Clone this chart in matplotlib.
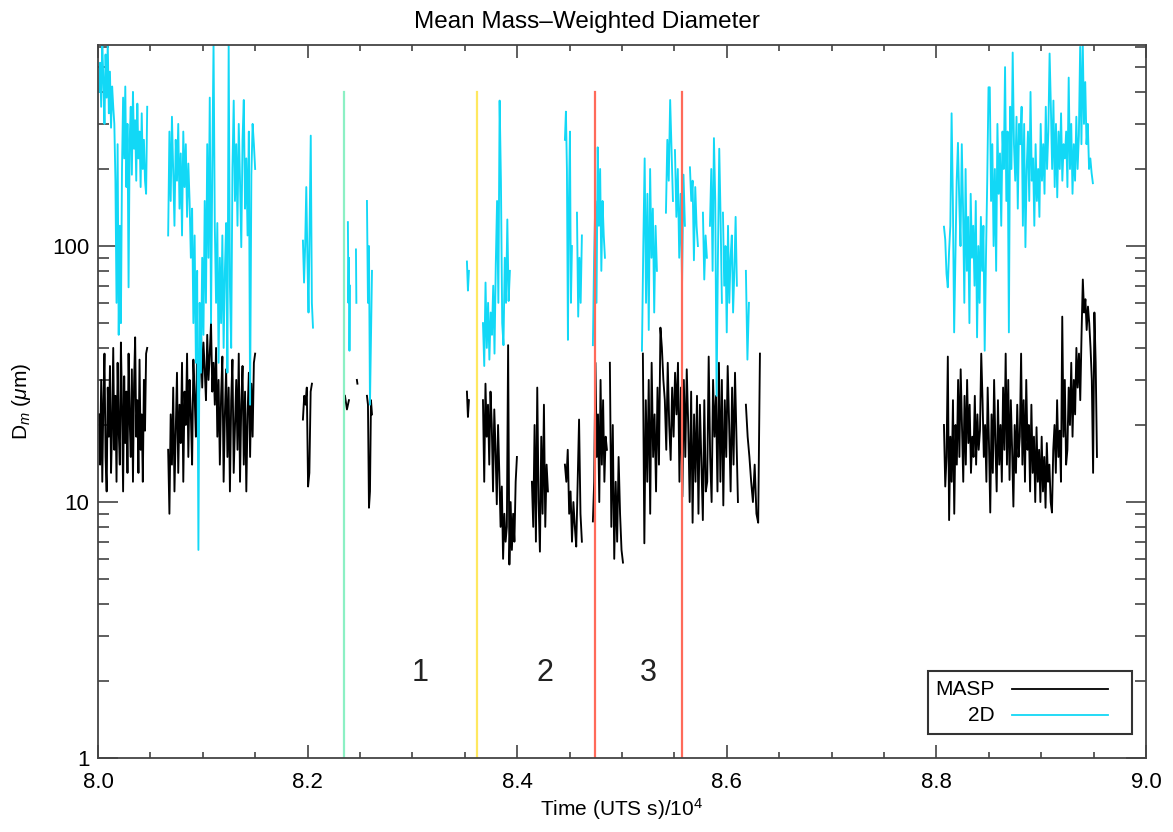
import numpy as np
import matplotlib
matplotlib.use("Agg")
import matplotlib.pyplot as plt
from matplotlib.patches import Rectangle
from matplotlib.ticker import FixedLocator, NullFormatter

plt.rcParams['font.family'] = ['Liberation Sans', 'DejaVu Sans']
plt.rcParams['mathtext.fontset'] = 'custom'
plt.rcParams['mathtext.rm'] = 'Liberation Sans'
plt.rcParams['mathtext.it'] = 'Liberation Sans:italic'

# Time spans (UTS s / 1e4) of each flight leg with valid samples
masp_spans = [(8.001, 8.047), (8.067, 8.150), (8.1956, 8.2042), (8.2357, 8.2395),
              (8.2471, 8.2476), (8.2567, 8.2615), (8.3521, 8.3540), (8.3674, 8.3998),
              (8.4141, 8.4294), (8.4456, 8.4618), (8.4723, 8.4857), (8.4885, 8.5010),
              (8.5200, 8.6107), (8.6183, 8.6317), (8.8073, 8.9533)]

masp_a = [22, 14, 30, 12, 25, 38, 15, 11, 28, 18, 34, 13, 20, 40, 16, 26, 12, 35, 19, 14,
          42, 24, 11, 31, 17, 27, 13, 38, 21, 15, 33, 12, 29, 44, 18, 25, 13, 36, 16, 22,
          12, 30, 19, 38, 40]
masp_b = [16, 9, 22, 14, 28, 11, 19, 32, 13, 24, 17, 35, 12, 27, 20, 38, 15, 30, 22, 14,
          36, 26, 18, 40, 23, 31, 48, 28, 42, 33, 25, 45, 30, 38, 50, 27, 35, 24, 40, 18,
          30, 14, 26, 37, 12, 22, 33, 15, 28, 11, 25, 36, 13, 20, 30, 16, 38, 12, 24, 34,
          14, 27, 11, 22, 32, 15, 29, 18, 35, 38]
masp_c = [21, 26, 24, 28, 11.5, 13, 27, 29]
masp_d = [26, 23, 25]
masp_d2 = [30, 29]
masp_e = [26, 24, 9.5, 11, 25, 22]
masp_f = [27, 21.5, 25]
masp_g = [25, 12, 29, 18, 24, 14, 27, 20, 11, 23, 16, 9.8, 20, 13, 8, 11.5, 6, 9, 7, 8,
          41, 5.7, 10, 6.5, 9, 7, 12, 15]
masp_h = [12, 8, 20, 7, 28, 10, 6.4, 18, 9, 24, 8, 14, 11]
masp_i = [14, 12, 16, 9, 11, 7, 10, 8, 6.7, 12, 21, 9, 7]
masp_j = [8.4, 12, 35, 15, 22, 10, 30, 14, 25, 12, 18, 16]
masp_k = [35, 8, 20, 6, 12, 7, 15, 9, 6.5, 5.8]
masp_l = [38, 6.9, 25, 12, 30, 9, 35, 15, 22, 11, 28, 14,
          48, 40, 30, 25, 16, 35, 20, 14.6, 28, 18, 32, 22,
          35, 12, 28, 10.5, 30, 15, 33, 20,
          10, 27, 8.3, 22, 12, 26, 9, 24, 14, 8.5, 25, 11,
          12, 37, 15, 10, 30, 18, 26, 11,
          35, 12, 30, 9.7, 25, 15, 34, 20, 11, 28, 14, 32, 18, 10]
masp_l2 = [24, 18, 15, 12, 10, 14, 9, 8.3, 38]
masp_m = [20, 11.5, 15, 37, 8.5, 18, 12, 25, 9, 20, 14, 30,
          15, 33, 20, 12, 26, 14, 30, 17, 24, 13, 18, 15,
          26, 14, 22, 16, 19, 38, 25, 15, 20, 12, 28, 17,
          9.1, 22, 13, 30, 17, 11, 25, 14, 20, 12, 28, 16,
          38, 14, 30, 12.2, 25, 16, 9.6, 20, 13, 24, 15, 18,
          38, 14, 25, 12, 30, 16, 20, 11, 24, 13, 18, 10,
          19.6, 12, 16, 10, 18, 11, 15, 9.5, 17, 12, 14, 10,
          9.1, 16, 20, 13, 25, 15, 19, 12, 53, 18, 30, 14,
          16, 28, 20, 35, 18, 30, 22, 40, 28, 38, 25, 45,
          74, 55, 62, 47, 58, 50, 40, 30, 13, 55, 35, 15]
masp_segments = [masp_a, masp_b, masp_c, masp_d, masp_d2, masp_e, masp_f, masp_g,
                 masp_h, masp_i, masp_j, masp_k, masp_l, masp_l2, masp_m]

twod_spans = [(8.001, 8.047), (8.067, 8.150), (8.1956, 8.2052), (8.2385, 8.2405),
              (8.2462, 8.2466), (8.2567, 8.2615), (8.3521, 8.3540), (8.3674, 8.3931),
              (8.4456, 8.4523), (8.4571, 8.4618), (8.4723, 8.4838), (8.5191, 8.5334),
              (8.5420, 8.5487), (8.5506, 8.5601), (8.5649, 8.5725), (8.5773, 8.5811),
              (8.5840, 8.5954), (8.5964, 8.6097), (8.6183, 8.6212), (8.8073, 8.9494)]

twod_a = [400, 520, 350, 610, 450, 300, 560, 380, 620, 330, 480, 290, 420, 350, 300,
          180, 60, 250, 45, 120, 50, 200,
          380, 220, 420, 170, 300, 69, 260, 350, 190, 400, 240, 310, 180, 360, 220, 280,
          170, 330, 200, 260, 180, 160, 350]
twod_b = [110, 280, 150, 320, 200, 120, 260, 180, 300, 140, 230, 110, 280, 170, 250, 130,
          210, 150,
          90, 140, 50, 110, 35, 80, 6.5, 60, 32, 90, 45,
          150, 60, 250, 90, 380, 50, 200, 620, 120,
          60, 123, 35, 90, 50, 110, 40, 80, 123, 32, 620, 70, 40,
          200, 370, 150, 250, 120, 300, 180, 99, 260, 372, 140, 220, 110, 280, 24, 190,
          300, 250, 200]
twod_c = [105, 72, 100, 170, 90, 55, 120, 270, 60, 48]
twod_d = [124, 60, 90, 39, 70]
twod_d2 = [97, 60]
twod_e = [150, 60, 100, 24, 45, 80]
twod_f = [87, 67, 80]
twod_g = [50, 34, 72, 40, 60, 36, 55, 45, 70, 38, 85, 150, 60, 370, 180, 50, 41, 90, 60,
          127, 61, 80]
twod_i1 = [260, 335, 200, 43, 150, 280, 60, 100]
twod_i2 = [135, 53, 90, 60, 110]
twod_j = [41, 90, 150, 60, 243, 120, 200, 80, 150, 110, 90]
twod_l1 = [39, 100, 220, 60, 160, 47, 200, 90, 140, 55, 120, 80]
twod_l2 = [135, 260, 180, 372, 240, 150]
twod_l3 = [237, 130, 200, 90, 160, 72, 190, 120]
twod_l4 = [203, 150, 180, 88, 170, 120, 100]
twod_l5 = [135, 74, 110, 90]
twod_l6 = [120, 200, 80, 264, 150, 26, 90, 240, 130, 60]
twod_l7 = [135, 70, 100, 46, 120, 60, 90, 110, 55, 80, 130, 70]
twod_l8 = [80, 36, 60]
twod_m = [119, 106, 78, 69, 95, 120, 330, 150, 46, 90, 180, 253,
          150, 100, 250, 140, 60, 200, 80, 130, 50, 160, 90, 120,
          70, 150, 44, 100, 60, 130, 80, 120, 39, 90, 180, 417,
          417, 150, 250, 100, 200, 80, 300, 160, 230, 120, 280, 200,
          500, 150, 280, 46, 350, 200, 570, 250, 180, 320, 140, 300,
          250, 350, 120, 300, 99, 200, 280, 150, 400, 180, 220, 120,
          250, 150, 200, 130, 300, 180, 250, 160, 350, 200, 280, 565,
          350, 200, 370, 170, 300, 155, 280, 200, 330, 180, 250, 220,
          280, 170, 455, 200, 300, 160, 250, 180, 320, 200, 270, 600,
          250, 650, 300, 437, 250, 300, 200, 220, 193, 176]
twod_segments = [twod_a, twod_b, twod_c, twod_d, twod_d2, twod_e, twod_f, twod_g,
                 twod_i1, twod_i2, twod_j, twod_l1, twod_l2, twod_l3, twod_l4, twod_l5,
                 twod_l6, twod_l7, twod_l8, twod_m]

# cloud-pass boundaries
marker_times = [8.2347, 8.3616, 8.4742, 8.5573]
marker_colors = ['#8cf0c4', '#ffe860', '#ff6a5a', '#ff6a5a']
marker_top = 400.0
region_labels = ['1', '2', '3']
region_times = [8.307, 8.4265, 8.5248]
region_y = 2.15


def join(spans, segments):
    """Concatenate segments with NaN gaps so each series is one line."""
    ts, vs = [], []
    for (t0, t1), vals in zip(spans, segments):
        ts.append(np.linspace(t0, t1, len(vals)))
        vs.append(np.asarray(vals, dtype=float))
        ts.append([np.nan])
        vs.append([np.nan])
    return np.concatenate(ts), np.concatenate(vs)


t_masp, d_masp = join(masp_spans, masp_segments)
t_2d, d_2d = join(twod_spans, twod_segments)

CYAN = '#12d8f6'

fig = plt.figure(figsize=(11.73, 8.32), dpi=100)
ax = fig.add_axes([0.0835, 0.0889, 0.8934, 0.8570])

ax.plot(t_masp, d_masp, color='black', lw=1.35)
ax.plot(t_2d, d_2d, color=CYAN, lw=1.35)
for t, c in zip(marker_times, marker_colors):
    ax.plot([t, t], [1, marker_top], color=c, lw=1.6)
for lab, t in zip(region_labels, region_times):
    ax.text(t, region_y, lab, ha='center', va='center', fontsize=22, color='#222222')

ax.set_yscale('log')
ax.set_xlim(8.0, 9.0)
ax.set_ylim(1, 610)

ax.xaxis.set_major_locator(FixedLocator([8.0, 8.2, 8.4, 8.6, 8.8, 9.0]))
ax.xaxis.set_minor_locator(FixedLocator(np.arange(8.0, 9.001, 0.05)))
ax.set_xticklabels(['8.0', '8.2', '8.4', '8.6', '8.8', '9.0'])
ax.yaxis.set_major_locator(FixedLocator([1, 10, 100]))
ax.set_yticklabels(['1', '10', '100'])
ax.yaxis.set_minor_locator(FixedLocator([m * 10 ** k for k in range(3) for m in range(2, 10)]))
ax.yaxis.set_minor_formatter(NullFormatter())

ax.tick_params(which='both', direction='in', top=True, right=True,
               width=1.1, color='#333333', labelsize=16)
ax.tick_params(axis='x', which='major', length=9.5, pad=10)
ax.tick_params(axis='x', which='minor', length=4.5)
ax.tick_params(axis='y', which='major', length=14.5, pad=6)
ax.tick_params(axis='y', which='minor', length=8)
for s in ax.spines.values():
    s.set_linewidth(1.3)
    s.set_color('#444444')

fig.suptitle('Mean Mass\u2013Weighted Diameter', x=0.5, y=0.974, va='center', fontsize=17.5)
ax.set_xlabel('Time (UTS s)/10$^4$', fontsize=15, labelpad=2)
ax.set_ylabel(r'D$_m$ ($\mu$m)', fontsize=15, labelpad=14)

# legend box, lower right
ax.add_patch(Rectangle((0.792, 0.0337), 0.195, 0.088, transform=ax.transAxes,
                       fill=False, lw=1.5, ec='#333333', zorder=5))
ax.text(0.856, 0.0968, 'MASP', transform=ax.transAxes, ha='right', va='center', fontsize=15)
ax.text(0.856, 0.0603, '2D', transform=ax.transAxes, ha='right', va='center', fontsize=15)
ax.plot([0.872, 0.964], [0.0968, 0.0968], transform=ax.transAxes, color='black', lw=1.3)
ax.plot([0.872, 0.964], [0.0603, 0.0603], transform=ax.transAxes, color=CYAN, lw=1.3)

fig.savefig('out.png', dpi=100)
